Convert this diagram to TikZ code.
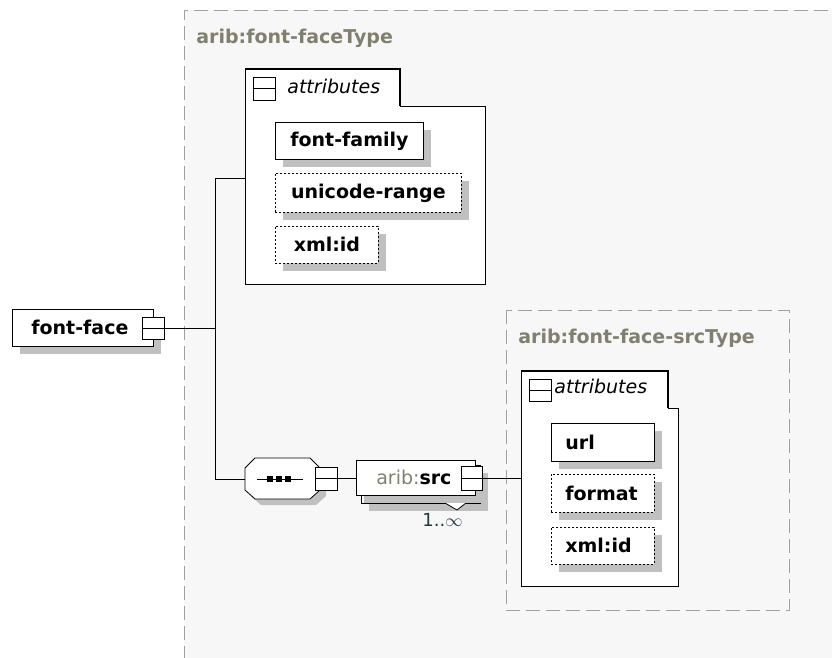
\documentclass[tikz,border=0pt]{standalone}
\usepackage{fontspec}
\setmainfont{DejaVu Sans}
\usetikzlibrary{shadows}
\definecolor{bgfill}{HTML}{F7F7F7}
\definecolor{shgray}{HTML}{C0C0C0}
\definecolor{dashgray}{HTML}{A0A0A0}
\definecolor{typegray}{HTML}{808070}
\definecolor{cardcol}{HTML}{203838}
\tikzset{
  txt/.style={font=\fontsize{19}{22}\selectfont\bfseries},
  shad/.style={drop shadow={shadow xshift=8pt, shadow yshift=-8pt, opacity=1, fill=shgray}},
  leaf/.style={txt, draw=black, fill=white, anchor=north west, inner sep=0pt, shad},
  optleaf/.style={leaf, dash pattern=on 2pt off 2pt},
  leftleaf/.style={align=left, text width=75pt, inner xsep=14pt},
  expander/.style={draw=black, fill=white, minimum width=22pt, minimum height=22pt, inner sep=0pt,
    path picture={\draw[black] (path picture bounding box.west) -- (path picture bounding box.east);}},
  typelabel/.style={txt, text=typegray, anchor=base west, inner sep=0pt},
  attrlabel/.style={font=\fontsize{19}{22}\selectfont\itshape, anchor=base west, inner sep=0pt},
  typebox/.style={draw=dashgray, dash pattern=on 14pt off 6pt, fill=bgfill},
  conn/.style={draw=black, line width=0.8pt},
  hidden/.style={inner sep=0pt, anchor=north west}
}
\begin{document}
\begin{tikzpicture}[x=1pt,y=-1pt,line width=0.8pt]
\useasboundingbox (0,0) rectangle (832,657);
\fill[white] (0,0) rectangle (832,657);
% outer type box
\begin{scope}
\clip (0,0) rectangle (832,657);
\fill[bgfill] (184,10) rectangle (850,680);
\draw[dashgray, dash pattern=on 14pt off 6pt] (184,680) -- (184,10) -- (850,10);
\end{scope}
\node[typelabel] (t1) at (196,43) {arib:font-faceType};

% font-face element
\node[leaf, minimum width=141pt, minimum height=37pt] (ff) at (12,309) {font-face\hspace*{6pt}};
\node[expander] (ffx) at (153,328) {};

% junction
\coordinate (j1) at (215,328);
\coordinate (jtop) at (215,178);
\coordinate (jbot) at (215,479);

% attributes box 1
\node[hidden, minimum width=240pt, minimum height=215pt] (attr1) at (245,69) {};
\draw[black, fill=white] (245,69) -- (400,69) -- (400,106) -- (485,106) -- (485,284) -- (245,284) -- cycle;
\draw[black, line width=1.8pt] (245,69) -- (400,69) -- (400,106);
\node[expander, minimum height=23pt] (a1x) at (264,88.5) {};
\node[attrlabel] (a1l) at (287,93) {attributes};
\node[leaf, minimum width=148pt, minimum height=37pt] (ffam) at (275,122) {font-family};
\node[optleaf, minimum width=186pt, minimum height=39pt] (urange) at (275,173) {unicode-range};
\node[optleaf, minimum width=103pt, minimum height=37pt] (xid1) at (275,226) {xml:id};

% sequence compositor
\node[hidden, minimum width=75pt, minimum height=41pt] (seq) at (245,458) {};
\fill[shgray] (261,464) -- (316,464) -- (326,474) -- (326,496) -- (316,505) -- (261,505) -- (251,496) -- (251,474) -- cycle;
\draw[black, fill=white] (255,458) -- (310,458) -- (320,468) -- (320,490) -- (310,499) -- (255,499) -- (245,490) -- (245,468) -- cycle;
\draw[black] (257,479) -- (303,479);
\fill[black] (267,476) rectangle (273,482);
\fill[black] (276,476) rectangle (282,482);
\fill[black] (285,476) rectangle (291,482);
\node[expander, minimum height=23pt] (seqx) at (326,478.5) {};

% arib:src element (repeating)
\node[draw=black, fill=white, hidden, minimum width=119pt, minimum height=38pt, shad] (srcback) at (361,465) {};
\draw[black, fill=white] (445,503) -- (457,510) -- (466,503);
\node[leaf, minimum width=119pt, minimum height=35pt, drop shadow={opacity=0}] (src) at (356,460) {{\mdseries\color{typegray}arib:}src\hspace*{4pt}};
\node[expander, minimum width=21pt, minimum height=24pt] (srcx) at (472,478.5) {};
\node[anchor=base east, inner sep=0pt, text=cardcol, font=\fontsize{18}{20}\selectfont] (card) at (463,526) {1..$\infty$};

% inner type box
\draw[typebox] (506,310) rectangle (789,610);
\node[typelabel] (t2) at (518,343) {arib:font-face-srcType};

% attributes box 2
\node[hidden, minimum width=157pt, minimum height=215pt] (attr2) at (521,371) {};
\draw[black, fill=white] (521,371) -- (668,371) -- (668,408) -- (678,408) -- (678,586) -- (521,586) -- cycle;
\draw[black, line width=1.8pt] (521,371) -- (668,371) -- (668,408);
\node[expander] (a2x) at (540,390) {};
\node[attrlabel] (a2l) at (554,393) {attributes};
\node[leaf, leftleaf, minimum height=38pt] (url) at (551,423) {url};
\node[optleaf, leftleaf, minimum height=38pt] (fmt) at (551,474) {format};
\node[optleaf, leftleaf, minimum height=37pt] (xid2) at (551,527) {xml:id};

% connectors
\draw[conn] (ffx.east) -- (j1);
\draw[conn] (jtop) -- (jbot);
\draw[conn] (jtop) -- (attr1.west |- jtop);
\draw[conn] (jbot) -- (seq.west |- jbot);
\draw[conn] (seqx.east) -- (src.west |- seqx.east);
\draw[conn] (srcx.east) -- (attr2.west |- srcx.east);
\end{tikzpicture}
\end{document}
